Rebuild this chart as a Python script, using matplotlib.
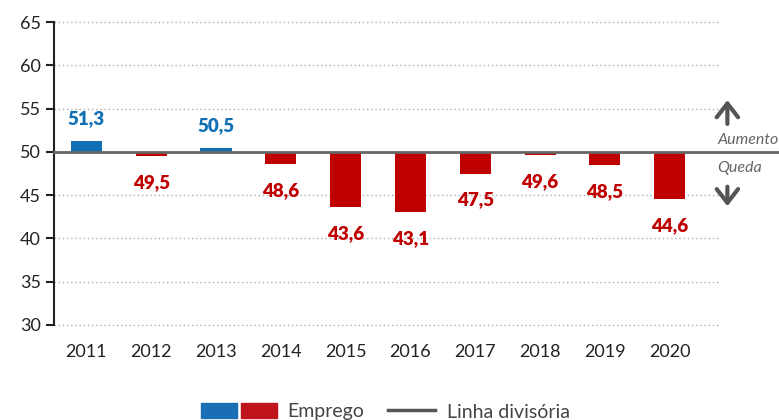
import matplotlib.pyplot as plt
from matplotlib.patches import Rectangle
from matplotlib.lines import Line2D

years = ['2011', '2012', '2013', '2014', '2015', '2016', '2017', '2018', '2019', '2020']
emprego = [51.3, 49.5, 50.5, 48.6, 43.6, 43.1, 47.5, 49.6, 48.5, 44.6]
yticks = [30, 35, 40, 45, 50, 55, 60, 65]
divisoria = 50

blue = '#1170b5'
red = '#c00000'
grey = '#666666'

plt.rcParams['font.family'] = ['Lato', 'DejaVu Sans']

fig = plt.figure(figsize=(7.79, 4.20), dpi=100)
ax = fig.add_axes([0.0693, 0.2262, 0.832, 0.7214])

x = list(range(len(years)))
bottoms = [divisoria] * len(years)
heights = [v - divisoria for v in emprego]
colors = [blue if v >= divisoria else red for v in emprego]
ax.bar(x, heights, bottom=bottoms, width=0.48, color=colors, zorder=3)

for xi, v, c in zip(x, emprego, colors):
    label = ('%.1f' % v).replace('.', ',')
    if v >= divisoria:
        ax.annotate(label, (xi, v), xytext=(0, 10), textcoords='offset points',
                    ha='center', va='bottom', color=c, fontsize=13.5, fontweight='heavy')
    else:
        ax.annotate(label, (xi, v), xytext=(0, -13), textcoords='offset points',
                    ha='center', va='top', color=c, fontsize=13.5, fontweight='heavy')

ax.set_xlim(-0.5, len(years) - 0.5)
ax.set_ylim(30, 65)
ax.set_yticks(yticks)
ax.set_xticks(x)
ax.set_xticklabels(years)
ax.tick_params(axis='x', length=0, pad=14, labelsize=13, colors='#222222')
ax.tick_params(axis='y', length=6, width=1.5, labelsize=13, colors='#222222')
for yt in yticks:
    if yt != divisoria:
        ax.plot([-0.5, 9.75], [yt, yt], color='#aaaaaa', linestyle=(0, (1, 2)),
                linewidth=1, zorder=1, clip_on=False)
for s in ['top', 'right', 'bottom']:
    ax.spines[s].set_visible(False)
ax.spines['left'].set_linewidth(1.5)
ax.spines['left'].set_color('#222222')

# dividing line runs to the right edge of the figure
ax.plot([-0.5, 10.7], [divisoria, divisoria], color=grey, linewidth=2,
        clip_on=False, zorder=4)

# Aumento / Queda hints
arrow = dict(arrowstyle='->,head_width=0.35,head_length=0.45', color='#555555',
             lw=3, mutation_scale=22)
ax.annotate('', xy=(9.89, 56.3), xytext=(9.89, 52.9), arrowprops=arrow,
            annotation_clip=False)
ax.annotate('', xy=(9.89, 43.4), xytext=(9.89, 46.3), arrowprops=arrow,
            annotation_clip=False)
ax.text(9.73, 51.4, 'Aumento', ha='left', va='center', fontsize=11.5,
        style='italic', color='#666666', clip_on=False)
ax.text(9.73, 48.15, 'Queda', ha='left', va='center', fontsize=11.5,
        style='italic', color='#666666', clip_on=False)

# legend drawn in figure pixels
W, H = 779.0, 420.0
fig.patches.append(Rectangle((201 / W, 2 / H), 36 / W, 15 / H, color='#1a6eb4',
                             transform=fig.transFigure, figure=fig))
fig.patches.append(Rectangle((241 / W, 2 / H), 36 / W, 15 / H, color='#c0141c',
                             transform=fig.transFigure, figure=fig))
fig.text(287 / W, 8 / H, 'Emprego', ha='left', va='center', fontsize=14, color='#444444')
fig.lines.append(Line2D([388 / W, 435 / W], [10 / H, 10 / H], color='#555555',
                        linewidth=2.5, transform=fig.transFigure, figure=fig))
fig.text(447 / W, 8 / H, 'Linha divisória', ha='left', va='center', fontsize=14,
         color='#444444')

fig.savefig('out.png', dpi=100)
